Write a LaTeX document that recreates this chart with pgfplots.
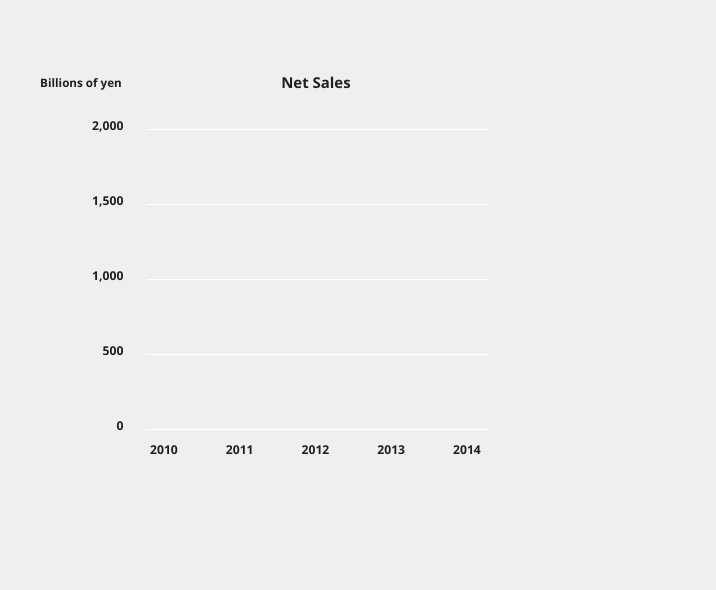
\documentclass[border=0pt]{standalone}
\usepackage{pgfplots}
\pgfplotsset{compat=1.18}
\usepackage{fontspec}
\setmainfont{Open Sans}
\definecolor{bg}{RGB}{239,239,239}
\definecolor{txt}{RGB}{35,31,32}
\begin{document}
\begin{tikzpicture}[x=1bp,y=1bp]
  \fill[bg] (0,0) rectangle (716,590);
  \useasboundingbox (0,0) rectangle (716,590);
  \node[anchor=base west,font=\bfseries\fontsize{11.7}{13}\selectfont,text=txt,inner sep=0]
    at (40,502) {Billions of yen};
  \node[anchor=base,font=\bfseries\fontsize{15}{17}\selectfont,text=txt,inner sep=0]
    at (316,501) {Net Sales};
  \begin{axis}[
      at={(146bp,161bp)}, anchor=south west,
      scale only axis, width=342bp, height=300bp,
      xmin=-0.238, xmax=4.277, ymin=0, ymax=2000,
      axis line style={draw=none},
      major tick length=0pt,
      ymajorgrids, grid style={white, line width=0.9pt},
      xtick={0,1,2,3,4},
      xticklabels={2010,2011,2012,2013,2014},
      ytick={0,500,1000,1500,2000},
      yticklabels={0,500,{1,000},{1,500},{2,000}},
      ticklabel style={font=\bfseries\fontsize{12.2}{14}\selectfont, text=txt},
      yticklabel style={anchor=east, xshift=-19bp, yshift=2.5bp},
      xticklabel style={anchor=north, yshift=-13bp},
    ]
    \addplot[draw=none] coordinates {(0,0) (4,0)};
  \end{axis}
\end{tikzpicture}
\end{document}
